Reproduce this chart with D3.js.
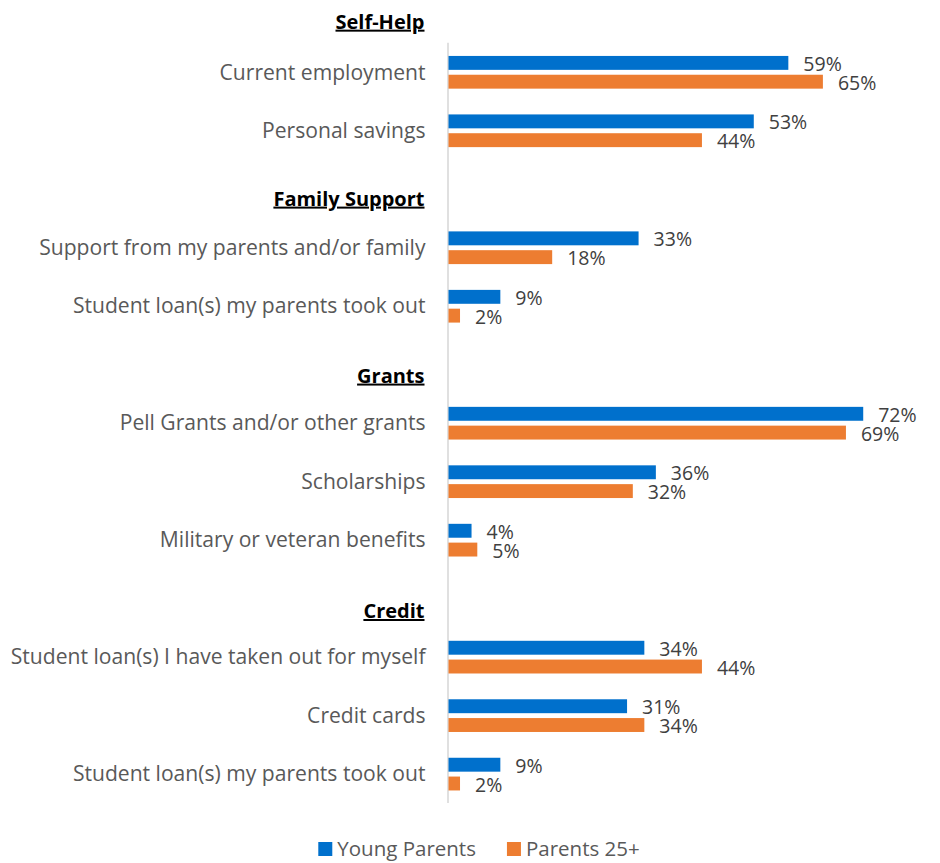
<!DOCTYPE html>
<html lang="en">
<head>
    <meta charset="UTF-8">
    <title>Funding sources: Young Parents vs Parents 25+</title>
    <script src="https://d3js.org/d3.v7.min.js"></script>
    <style>
        body { margin: 0; background: #fff; }
        svg text { font-family: "Open Sans", "Noto Sans", sans-serif; }
    </style>
</head>
<body>
    <div id="chart"></div>
    <script>
        // group headers and the items under each
        const groups = ["Self-Help", "Family Support", "Grants", "Credit"];
        const categories = [
            "Current employment",
            "Personal savings",
            "Support from my parents and/or family",
            "Student loan(s) my parents took out",
            "Pell Grants and/or other grants",
            "Scholarships",
            "Military or veteran benefits",
            "Student loan(s) I have taken out for myself",
            "Credit cards",
            "Student loan(s) my parents took out"
        ];
        const groupOf = [0, 0, 1, 1, 2, 2, 2, 3, 3, 3];
        const youngParents = [59, 53, 33, 9, 72, 36, 4, 34, 31, 9];
        const parents25 = [65, 44, 18, 2, 69, 32, 5, 44, 34, 2];
        const seriesNames = ["Young Parents", "Parents 25+"];
        const colors = ["#0070CC", "#ED7D31"];

        const W = 940, H = 863;
        const svg = d3.select("#chart").append("svg")
            .attr("width", W).attr("height", H);

        // one row per header + one per item
        let rows = [];
        groups.forEach((g, gi) => {
            rows.push({ id: "h" + gi, header: g });
            categories.forEach((c, i) => {
                if (groupOf[i] === gi) rows.push({ id: "c" + i, label: c, vals: [youngParents[i], parents25[i]] });
            });
        });

        const axisX = 448.5, plotTop = 42.7, plotBottom = 803;
        const step = (plotBottom - plotTop) / (rows.length - 1);

        const y = d3.scaleBand()
            .domain(rows.map(r => r.id))
            .range([plotTop - step, plotBottom])
            .padding(0);

        const x = d3.scaleLinear().domain([0, 80]).range([axisX, axisX + 5.76 * 80]);

        const sub = d3.scaleBand().domain([0, 1]).range([-16, 16.7]).paddingInner(0.26);

        // axis line
        svg.append("line")
            .attr("x1", axisX - 0.5).attr("x2", axisX - 0.5)
            .attr("y1", plotTop).attr("y2", plotBottom)
            .attr("stroke", "#d9d9d9").attr("stroke-width", 1.6);

        const cy = id => y(id) + y.bandwidth() / 2;

        // header labels (sit a bit below their empty row)
        svg.selectAll("text.header")
            .data(rows.filter(r => r.header))
            .enter().append("text")
            .attr("class", "header")
            .attr("x", axisX - 24)
            .attr("y", (d, i) => cy(d.id) + 8 + i * 1.5)
            .attr("dy", "0.36em")
            .attr("text-anchor", "end")
            .attr("font-size", "20px")
            .attr("font-weight", "bold")
            .attr("text-decoration", "underline")
            .attr("fill", "#000")
            .text(d => d.header);

        const items = rows.filter(r => r.label);

        // category labels
        svg.selectAll("text.cat")
            .data(items)
            .enter().append("text")
            .attr("class", "cat")
            .attr("x", axisX - 23)
            .attr("y", d => cy(d.id))
            .attr("dy", "0.36em")
            .attr("text-anchor", "end")
            .attr("font-size", "21.1px")
            .attr("fill", "#595959")
            .text(d => d.label);

        const rowG = svg.selectAll("g.row")
            .data(items)
            .enter().append("g")
            .attr("class", "row")
            .attr("transform", d => `translate(0,${cy(d.id)})`);

        rowG.selectAll("rect")
            .data(d => d.vals)
            .enter().append("rect")
            .attr("x", x(0))
            .attr("y", (v, i) => sub(i))
            .attr("width", v => x(v) - x(0))
            .attr("height", sub.bandwidth())
            .attr("fill", (v, i) => colors[i]);

        rowG.selectAll("text.val")
            .data(d => d.vals)
            .enter().append("text")
            .attr("class", "val")
            .attr("x", v => x(v) + 15)
            .attr("y", (v, i) => sub(i) + sub.bandwidth() / 2 + 1)
            .attr("dy", "0.36em")
            .attr("font-size", "19.5px")
            .attr("fill", "#404040")
            .text(v => v + "%");

        // legend
        const legend = svg.append("g");
        let lx = 0;
        seriesNames.forEach((name, i) => {
            const g = legend.append("g").attr("transform", `translate(${lx},0)`);
            g.append("rect").attr("x", 0).attr("y", -7).attr("width", 14).attr("height", 14)
                .attr("fill", colors[i]);
            const t = g.append("text").attr("x", 19).attr("y", 0).attr("dy", "0.36em")
                .attr("font-size", "20.5px").attr("fill", "#595959").text(name);
            lx += 19 + t.node().getComputedTextLength() + 31;
        });
        const legendW = lx - 31;
        legend.attr("transform", `translate(${479 - legendW / 2},849)`);
    </script>
</body>
</html>
